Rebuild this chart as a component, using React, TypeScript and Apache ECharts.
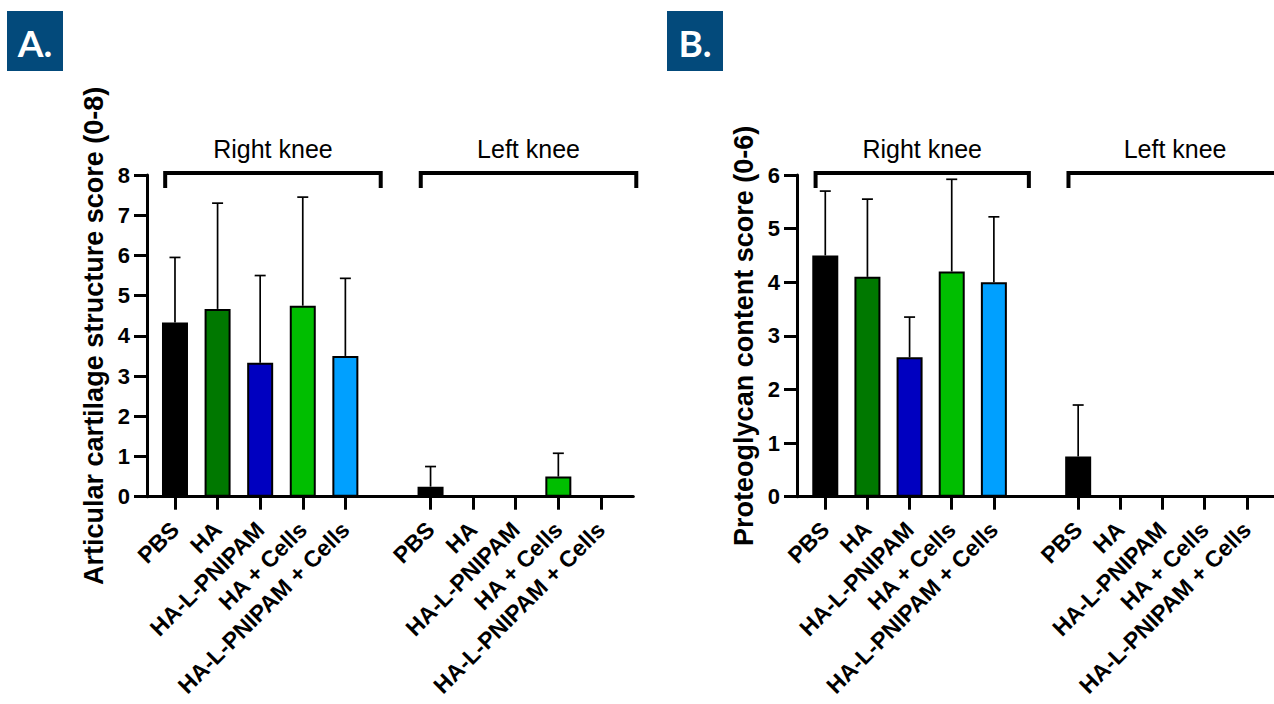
import React, { useEffect, useRef } from "react";
import * as echarts from "echarts";

// ---------- data ----------
const categories = ["PBS", "HA", "HA-L-PNIPAM", "HA + Cells", "HA-L-PNIPAM + Cells"];
const groupLabels = ["Right knee", "Left knee"];
const barColors = ["#000000", "#007800", "#0000C0", "#00BE00", "#00A0FF"];

// Panel A: Articular cartilage structure score (mean, SD)
const cartilageRight = [4.33, 4.67, 3.33, 4.75, 3.5];
const cartilageRightSD = [1.62, 2.63, 2.17, 2.7, 1.93];
const cartilageLeft = [0.25, 0, 0, 0.5, 0];
const cartilageLeftSD = [0.5, 0, 0, 0.58, 0];

// Panel B: Proteoglycan content score (mean, SD)
const proteoRight = [4.5, 4.1, 2.6, 4.2, 4.0];
const proteoRightSD = [1.2, 1.45, 0.75, 1.72, 1.22];
const proteoLeft = [0.75, 0, 0, 0, 0];
const proteoLeftSD = [0.96, 0, 0, 0, 0];

const yTitles = ["Articular cartilage structure score (0-8)", "Proteoglycan content score (0-6)"];
const yMaxes = [8, 6];
const panelLetters = ["A.", "B."];

const FONT = '"Liberation Sans", Arial, sans-serif';
const GROUP_STRIDE = 6; // 5 categories + one empty slot

const tickPositions: number[] = [];
for (let g = 0; g < 2; g++) for (let i = 0; i < categories.length; i++) tickPositions.push(g * GROUP_STRIDE + i);

function labelFor(v: number) {
  const idx = Math.round(v);
  const i = idx >= GROUP_STRIDE ? idx - GROUP_STRIDE : idx;
  return categories[i] ?? "";
}

function barData(right: number[], left: number[]) {
  const out: any[] = [];
  [right, left].forEach((arr, g) =>
    arr.forEach((v, i) =>
      out.push({ value: [g * GROUP_STRIDE + i, v], itemStyle: { color: barColors[i] } })
    )
  );
  return out;
}

function errData(right: number[], rightSD: number[], left: number[], leftSD: number[]) {
  const out: number[][] = [];
  [[right, rightSD], [left, leftSD]].forEach(([m, sd], g) =>
    m.forEach((v, i) => {
      if (sd[i] > 0) out.push([g * GROUP_STRIDE + i, v, v + sd[i]]);
    })
  );
  return out;
}

const bracketData = groupLabels.map((_, g) => [g * GROUP_STRIDE - 0.23, g * GROUP_STRIDE + 4.83, g]);

export default function App() {
  const ref = useRef<HTMLDivElement>(null);
  useEffect(() => {
    if (!ref.current) return;
    const chart = echarts.init(ref.current, undefined, { renderer: "svg" });

    const grids = [
      { left: 147, top: 175, width: 486.3, height: 321.7, outerBoundsMode: "none", containLabel: false },
      { left: 797, top: 175, width: 481.8, height: 321.7, outerBoundsMode: "none", containLabel: false },
    ];
    const xMins = [-0.657, -0.671];
    const xMax = 10.76;

    const xAxes = grids.map((_, k) => ({
      gridIndex: k,
      type: "value",
      min: xMins[k],
      max: xMax,
      axisLine: { show: true, onZero: false, lineStyle: { color: "#000", width: 3 } },
      axisTick: { show: true, length: 13, customValues: tickPositions, lineStyle: { color: "#000", width: 3 } },
      axisLabel: {
        customValues: tickPositions,
        rotate: 45,
        margin: 29,
        formatter: (v: number) => labelFor(v),
        color: "#000",
        fontSize: 23,
        fontWeight: "bold",
        fontFamily: FONT,
      },
      splitLine: { show: false },
    }));

    const yAxes = grids.map((_, k) => ({
      gridIndex: k,
      type: "value",
      min: 0,
      max: yMaxes[k],
      interval: 1,
      name: yTitles[k],
      nameLocation: "middle",
      nameGap: 40,
      nameRotate: 90,
      nameTextStyle: { color: "#000", fontSize: 27, fontWeight: "bold", fontFamily: FONT },
      axisLine: { show: true, onZero: false, lineStyle: { color: "#000", width: 3 } },
      axisTick: { show: true, inside: false, length: 13, lineStyle: { color: "#000", width: 3 } },
      axisLabel: { color: "#000", fontSize: 22, fontWeight: "bold", fontFamily: FONT, margin: 17 },
      splitLine: { show: false },
    }));

    const panels = [
      { right: cartilageRight, rightSD: cartilageRightSD, left: cartilageLeft, leftSD: cartilageLeftSD },
      { right: proteoRight, rightSD: proteoRightSD, left: proteoLeft, leftSD: proteoLeftSD },
    ];

    const series: any[] = [];
    panels.forEach((p, k) => {
      series.push({
        type: "custom",
        xAxisIndex: k,
        yAxisIndex: k,
        z: 1,
        clip: false,
        data: errData(p.right, p.rightSD, p.left, p.leftSD),
        renderItem: (params: any, api: any) => {
          const x = api.value(0);
          const p0 = api.coord([x, api.value(1)]);
          const p1 = api.coord([x, api.value(2)]);
          const cap = 5.5;
          return {
            type: "group",
            children: [
              { type: "line", shape: { x1: p0[0], y1: p0[1], x2: p1[0], y2: p1[1] }, style: { stroke: "#000", lineWidth: 1.7 } },
              { type: "line", shape: { x1: p1[0] - cap, y1: p1[1], x2: p1[0] + cap, y2: p1[1] }, style: { stroke: "#000", lineWidth: 1.7 } },
            ],
          };
        },
      });
      series.push({
        type: "bar",
        xAxisIndex: k,
        yAxisIndex: k,
        z: 2,
        barWidth: 26,
        itemStyle: { borderColor: "#000", borderWidth: 2 },
        data: barData(p.right, p.left),
      });
      series.push({
        type: "custom",
        xAxisIndex: k,
        yAxisIndex: k,
        z: 3,
        clip: false,
        data: bracketData,
        renderItem: (params: any, api: any) => {
          const s = api.value(0);
          const e = api.value(1);
          const g = api.value(2);
          const a = api.coord([s, yMaxes[k]]);
          const b = api.coord([e, yMaxes[k]]);
          const yTop = a[1] - 2;
          return {
            type: "group",
            children: [
              {
                type: "polyline",
                shape: { points: [[a[0], yTop + 15], [a[0], yTop], [b[0], yTop], [b[0], yTop + 15]] },
                style: { stroke: "#000", lineWidth: 4, fill: null, lineJoin: "miter" },
              },
              {
                type: "text",
                style: {
                  text: groupLabels[g],
                  x: (a[0] + b[0]) / 2,
                  y: yTop - 24,
                  align: "center",
                  verticalAlign: "middle",
                  fontSize: 25,
                  fontFamily: FONT,
                  fill: "#000",
                },
              },
            ],
          };
        },
      });
    });

    const boxes = [
      { x: 7, y: 11 },
      { x: 667, y: 11 },
    ];
    const graphic: any[] = [];
    boxes.forEach((b, k) => {
      graphic.push({ type: "rect", left: b.x, top: b.y, shape: { width: 56, height: 60 }, style: { fill: "#034A7B" } });
      graphic.push({
        type: "text",
        x: b.x + 28,
        y: b.y + 31,
        style: {
          text: panelLetters[k],
          fill: "#fff",
          fontSize: 37,
          fontWeight: "bold",
          fontFamily: "Lato, 'Open Sans', sans-serif",
          align: "center",
          verticalAlign: "middle",
        },
      });
    });

    chart.setOption({
      animation: false,
      backgroundColor: "#fff",
      grid: grids,
      xAxis: xAxes,
      yAxis: yAxes,
      series,
      graphic,
    });
    return () => chart.dispose();
  }, []);
  return <div ref={ref} style={{ position: "absolute", left: 0, top: 0, width: 1274, height: 704 }} />;
}
